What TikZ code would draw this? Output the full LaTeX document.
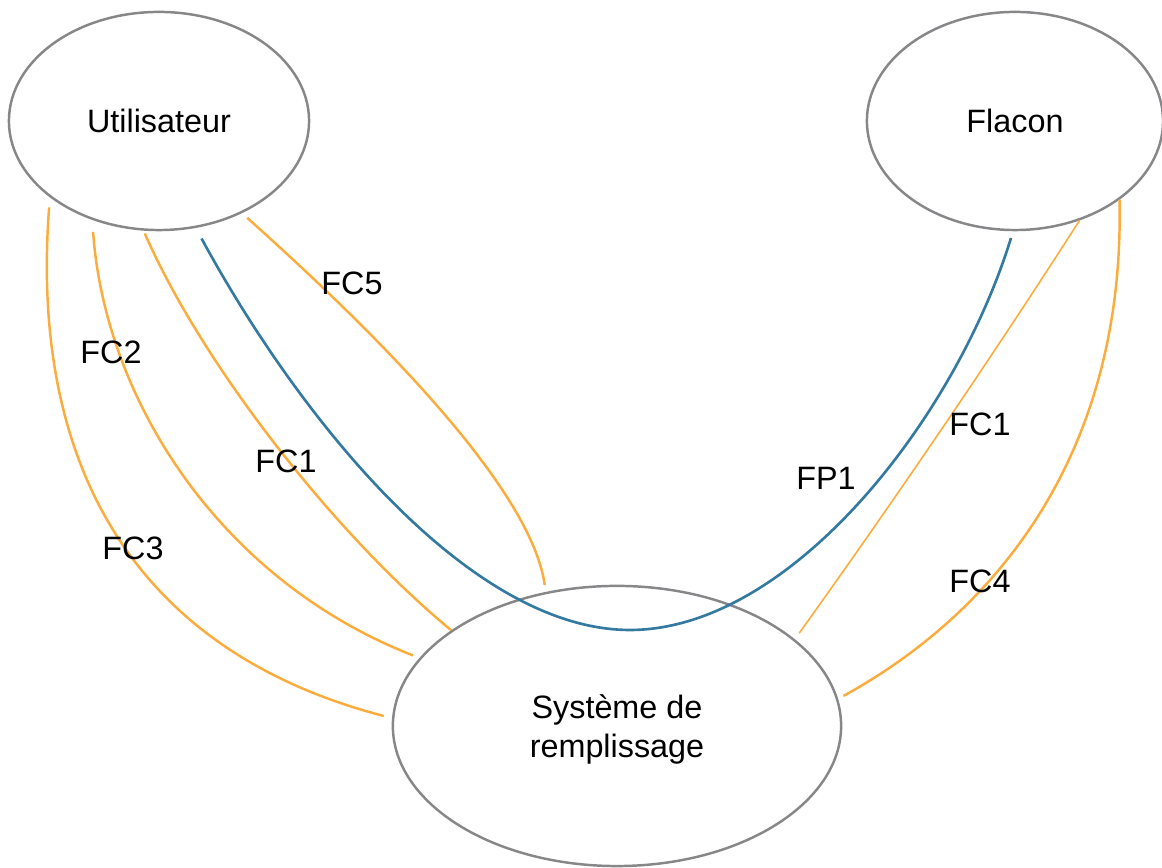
\documentclass[tikz,border=0pt]{standalone}
\usepackage{fontspec}
\setmainfont{Liberation Sans}
\usetikzlibrary{shapes.geometric}

\definecolor{grisbord}{RGB}{135,135,138}
\definecolor{orangefc}{RGB}{252,172,60}
\definecolor{bleufp}{RGB}{52,122,160}

\begin{document}
\begin{tikzpicture}[x=0.01cm,y=-0.01cm,
        every node/.style={font=\fontsize{9.2}{11.1}\selectfont},
        bulle/.style={ellipse,draw=grisbord,line width=0.7pt,inner sep=0pt},
        fc/.style={draw=orangefc,line width=0.7pt},
        fp/.style={draw=bleufp,line width=0.75pt}]
            \useasboundingbox (0,0) rectangle (1162,868);

            \node[bulle,minimum width=3cm,minimum height=2.18cm] (util) at (159,121) {Utilisateur};
            \node[bulle,minimum width=2.96cm,minimum height=2.18cm] (flacon) at (1015,121) {Flacon};
            \node[bulle,minimum width=4.48cm,minimum height=2.8cm,align=center,text depth=0pt] (sys) at (617,726) {Système de\\remplissage};

            \coordinate (creux) at (630,630);

            % Utilisateur -- Systeme
            \draw[fc,shorten <=1mm,shorten >=0.85mm] (util.215) .. controls (30,460) and (130,650) .. (sys.178.6);
            \draw[fc,shorten <=1.2mm,shorten >=0.7mm] (util.236.2) .. controls (105,400) and (220,580) .. (sys.161.2);
            \draw[fc,shorten <=0.3mm] (util.262.1) .. controls (200,360) and (330,530) .. (sys.150);
            \draw[fc,shorten <=0.7mm,shorten >=0.7mm] (util.312) .. controls (350,310) and (530,480) .. (sys.118.4);

            % Utilisateur -- Flacon
            \draw[fp,shorten <=1.2mm,shorten >=0.7mm] (util.289.5) .. controls (300,420) and (470,630) .. (creux)
                .. controls (790,630) and (955,420) .. (flacon.269.5);

            % Flacon -- Systeme
            \draw[fc,line width=0.45pt,shorten >=0.76mm] (flacon.303.3) .. controls (990,360) and (896,498) .. (sys.26.4);
            \draw[fc,shorten >=0.6mm] (flacon.323.9) .. controls (1125,450) and (1000,610) .. (sys.7.6);

            \node (fc5) at (352,283) {FC5};
            \node (fc2) at (111,352) {FC2};
            \node (fc1a) at (286,461) {FC1};
            \node (fc3) at (133,548) {FC3};
            \node (fp1) at (826,478) {FP1};
            \node (fc1b) at (980,424) {FC1};
            \node (fc4) at (980,581) {FC4};
        \end{tikzpicture}
\end{document}
